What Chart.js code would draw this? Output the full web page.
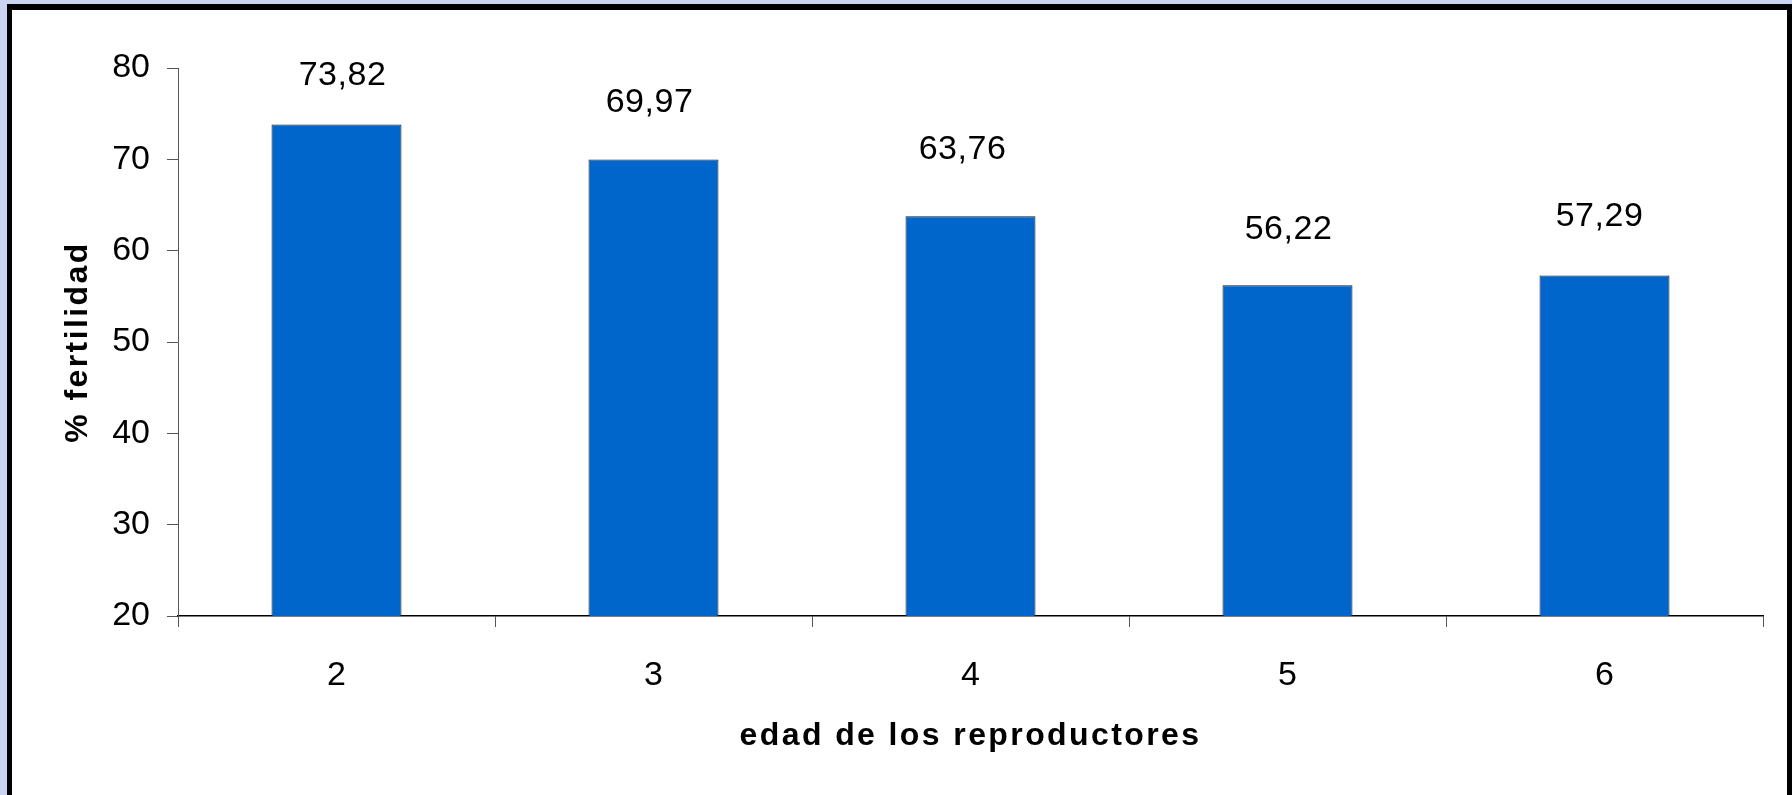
<!DOCTYPE html>
<html>
<head>
<meta charset="utf-8">
<script src="https://cdn.jsdelivr.net/npm/chart.js@4"></script>
<style>
  html, body { margin: 0; padding: 0; background: #cbd4f1; overflow: hidden; }
  canvas { display: block; }
</style>
</head>
<body>
<canvas id="fertChart" width="1792" height="795"></canvas>
<script>
const edades = ['2', '3', '4', '5', '6'];
const fertilidad = [73.82, 69.97, 63.76, 56.22, 57.29];
const yTicks = [20, 30, 40, 50, 60, 70, 80];
const tituloX = 'edad de los reproductores';
const tituloY = '% fertilidad';

// where each value label sits relative to its bar top (px), as in the original
const labelShift = [[6, 39], [-4, 48], [-8, 57], [1, 46], [-5, 49]];

const FONT = '"Liberation Sans", Arial, sans-serif';

// light background, black frame, white sheet
const framePlugin = {
    id: 'frame',
    beforeDraw(chart) {
        const c = chart.ctx;
        c.save();
        c.fillStyle = '#cbd4f1';
        c.fillRect(0, 0, chart.width, chart.height);
        c.fillStyle = '#000';
        c.fillRect(7, 4, 1785, 800);
        c.fillStyle = '#fff';
        c.fillRect(12, 10, 1775, 800);
        c.restore();
    }
};

// value labels above the bars and the two bold axis titles
const labelPlugin = {
    id: 'labels',
    afterDraw(chart) {
        const c = chart.ctx;
        const area = chart.chartArea;
        c.save();
        c.fillStyle = '#000';
        c.textAlign = 'center';
        c.textBaseline = 'alphabetic';
        c.font = '34px ' + FONT;
        c.letterSpacing = '0.5px';
        chart.getDatasetMeta(0).data.forEach((bar, i) => {
            const txt = fertilidad[i].toFixed(2).replace('.', ',');
            c.fillText(txt, bar.x + labelShift[i][0], bar.y - labelShift[i][1]);
        });

        c.font = 'bold 32px ' + FONT;
        c.letterSpacing = '2.4px';
        c.textBaseline = 'middle';
        c.fillText(tituloX, (area.left + area.right) / 2, 736);
        c.translate(78, (area.top + area.bottom) / 2);
        c.rotate(-Math.PI / 2);
        c.fillText(tituloY, 0, 0);
        c.restore();
    }
};

new Chart(document.getElementById('fertChart'), {
    type: 'bar',
    data: {
        labels: edades,
        datasets: [{
            data: fertilidad,
            backgroundColor: '#0066cc',
            borderColor: '#1a1a1a',
            borderWidth: 1,
            categoryPercentage: 1,
            barPercentage: 0.41
        }]
    },
    options: {
        responsive: false,
        devicePixelRatio: 1,
        animation: false,
        layout: { padding: { top: 68, right: 29, left: 0, bottom: 0 } },
        plugins: { legend: { display: false }, tooltip: { enabled: false } },
        scales: {
            x: {
                grid: { offset: true, drawOnChartArea: false, tickLength: 11, color: '#555' },
                border: { color: '#000', width: 1.5 },
                ticks: { color: '#000', padding: 28, font: { family: FONT, size: 34 } },
                afterFit(scale) { scale.height = 179; }
            },
            y: {
                min: 20,
                max: 80,
                afterBuildTicks(scale) { scale.ticks = yTicks.map(v => ({ value: v })); },
                grid: { drawOnChartArea: false, tickLength: 11, color: '#555' },
                border: { color: '#555', width: 1 },
                ticks: { color: '#000', padding: 17, font: { family: FONT, size: 34 } },
                afterFit(scale) { scale.width = 178; }
            }
        }
    },
    plugins: [framePlugin, labelPlugin]
});
</script>
</body>
</html>
